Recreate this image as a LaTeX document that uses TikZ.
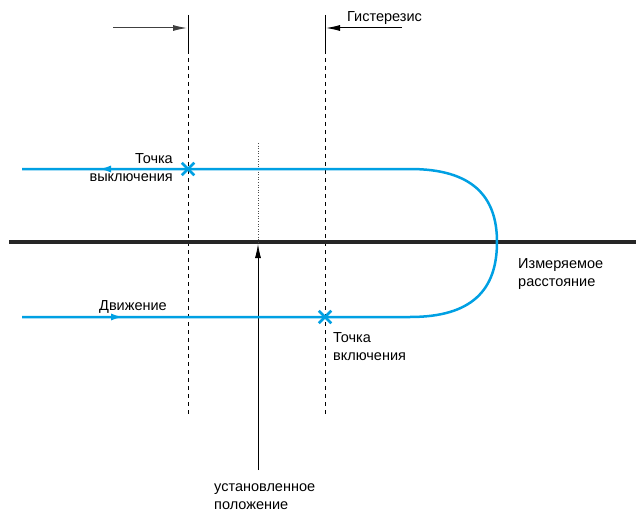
\documentclass[tikz,border=0pt]{standalone}
\usepackage{fontspec}
\setmainfont{Liberation Sans}
\usetikzlibrary{arrows.meta,positioning,shapes.misc}
\definecolor{lineblue}{RGB}{0,160,227}

\begin{document}
\begin{tikzpicture}[x=1pt,y=-1pt,font=\fontsize{14.5}{18}\selectfont,
  every node/.style={inner sep=0pt},
  blueline/.style={draw=lineblue,line width=2.5pt},
  bluetip/.style={draw=lineblue,line width=2.5pt,-{Latex[length=13pt,width=7pt]}},
  switchpt/.style={cross out,draw=lineblue,line width=2.5pt,minimum size=10pt},
  limit/.style={line width=0.8pt,dash pattern=on 4pt off 4pt},
  pointer/.style={line width=1pt,-{Latex[length=14pt,width=6pt]}}]
  \useasboundingbox (0,0) rectangle (638,511);
  % limits of the hysteresis band
  \coordinate (offtop) at (188,15);
  \coordinate (offmid) at (188,50);
  \coordinate (offbot) at (188,415);
  \coordinate (ontop) at (325,15);
  \coordinate (onmid) at (325,50);
  \coordinate (onbot) at (325,415);
  \draw[line width=0.8pt] (offtop) -- (offmid);
  \draw[limit] (offmid) -- (offbot);
  \draw[line width=0.8pt] (ontop) -- (onmid);
  \draw[limit] (onmid) -- (onbot);
  % hysteresis arrows
  \coordinate (hleft) at (113,28);
  \coordinate (hleftend) at (187,28);
  \coordinate (hright) at (402,28);
  \coordinate (hrightend) at (326,28);
  \draw[pointer,black!75] (hleft) -- (hleftend);
  \draw[pointer] (hright) -- (hrightend);
  \node[anchor=base west] (hyst) at (347,22) {Гистерезис};
  % measured distance axis
  \coordinate (axisl) at (9,242);
  \coordinate (axisr) at (636,242);
  \draw[line width=4pt,black!85] (axisl) -- (axisr);
  \node[anchor=north west,align=left] (dist) at (518,258) {Измеряемое\\расстояние};
  % set position
  \coordinate (settop) at (258,143);
  \coordinate (setaxis) at (258,244);
  \coordinate (setfoot) at (258,470);
  \draw[line width=0.6pt,dotted,black!70] (settop) -- (setaxis);
  \draw[pointer,line width=0.8pt] (setfoot) -- (setaxis);
  \node[anchor=north west,align=left] (setlbl) at (214,483) {установленное\\положение};
  % motion path
  \node[switchpt] (offpt) at (188,169) {};
  \node[switchpt] (onpt) at (325,317) {};
  \draw[blueline] (22,169) -- (offpt.center) -- (410,169)
    .. controls (472,169) and (497,196) .. (497,242)
    .. controls (497,290) and (472,317) .. (410,317)
    -- (onpt.center) -- (22,317);
  \coordinate (backtail) at (114,169);
  \coordinate (backtip) at (98,169);
  \coordinate (fwdtail) at (108,317);
  \coordinate (fwdtip) at (124,317);
  \draw[bluetip] (backtail) -- (backtip);
  \draw[bluetip] (fwdtail) -- (fwdtip);
  \node[anchor=north east,align=right] (offlbl) at (173,153) {Точка\\выключения};
  \node[anchor=base west] (move) at (99,310) {Движение};
  \node[anchor=north west,align=left] (onlbl) at (333,332) {Точка\\включения};
\end{tikzpicture}
\end{document}
